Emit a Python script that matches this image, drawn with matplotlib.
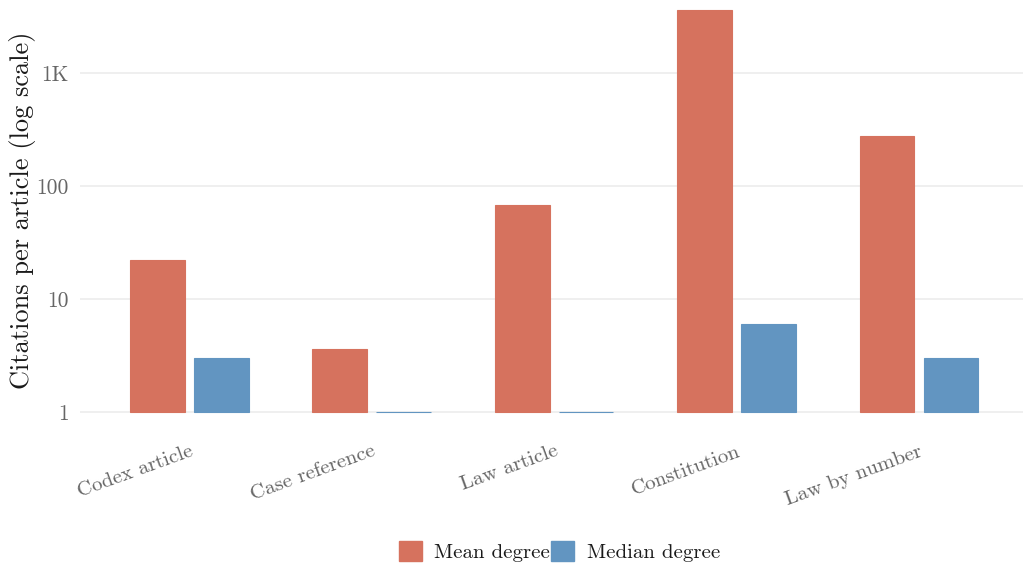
import numpy as np
import matplotlib.pyplot as plt
import matplotlib.patches as mpatches

plt.rcParams["font.family"] = ["cmr10", "DejaVu Serif"]
plt.rcParams["axes.formatter.use_mathtext"] = True

categories = ["Codex article", "Case reference", "Law article", "Constitution", "Law by number"]
mean_degree = [22.1, 3.6, 68.0, 3600.0, 277.0]
median_degree = [3.0, 1.0, 1.0, 6.0, 3.0]

tick_values = [1, 10, 100, 1000]
tick_labels = ["1", "10", "100", "1K"]

RED = "#d6725e"
BLUE = "#6295c1"

fig = plt.figure(figsize=(10.23, 5.64), dpi=100)
ax = fig.add_axes([0.078, 0.255, 0.922, 0.745])

x = np.arange(len(categories))
width = 0.30
offset = 0.175

# bars start at 1 on the log axis; zero-height bars still show as a line
ax.bar(x - offset, np.array(mean_degree) - 1, bottom=1, width=width,
       color=RED, edgecolor=RED, linewidth=0.8, zorder=3)
ax.bar(x + offset, np.array(median_degree) - 1, bottom=1, width=width,
       color=BLUE, edgecolor=BLUE, linewidth=0.8, zorder=3)

ax.set_yscale("log")
ax.set_ylim(0.85, 4430)
ax.set_xlim(-0.6, 4.57)
ax.yaxis.set_major_locator(plt.FixedLocator(tick_values))
ax.yaxis.set_minor_locator(plt.NullLocator())
ax.set_yticks(tick_values, tick_labels)
ax.grid(axis="y", color="#ebebeb", linewidth=1.1, zorder=0)
ax.tick_params(axis="both", length=0, labelcolor="#666666")
ax.tick_params(axis="y", pad=8, labelsize=15.5)

ax.set_xticks(x)
ax.set_xticklabels(categories, rotation=20, ha="right", rotation_mode="anchor")
ax.tick_params(axis="x", pad=16, labelsize=15)

for spine in ax.spines.values():
    spine.set_visible(False)

ax.set_ylabel("Citations per article (log scale)", fontsize=19, color="#1a1a1a", labelpad=0)

handles = [mpatches.Patch(color=RED, label="Mean degree"),
           mpatches.Patch(color=BLUE, label="Median degree")]
fig.legend(handles=handles, loc="lower center", ncol=2, frameon=False,
           fontsize=15, bbox_to_anchor=(0.547, -0.03), handlelength=1.1,
           handleheight=1.1, handletextpad=0.6, columnspacing=0.05,
           labelcolor="#1a1a1a")

fig.savefig("out.png", dpi=100, facecolor="white")
